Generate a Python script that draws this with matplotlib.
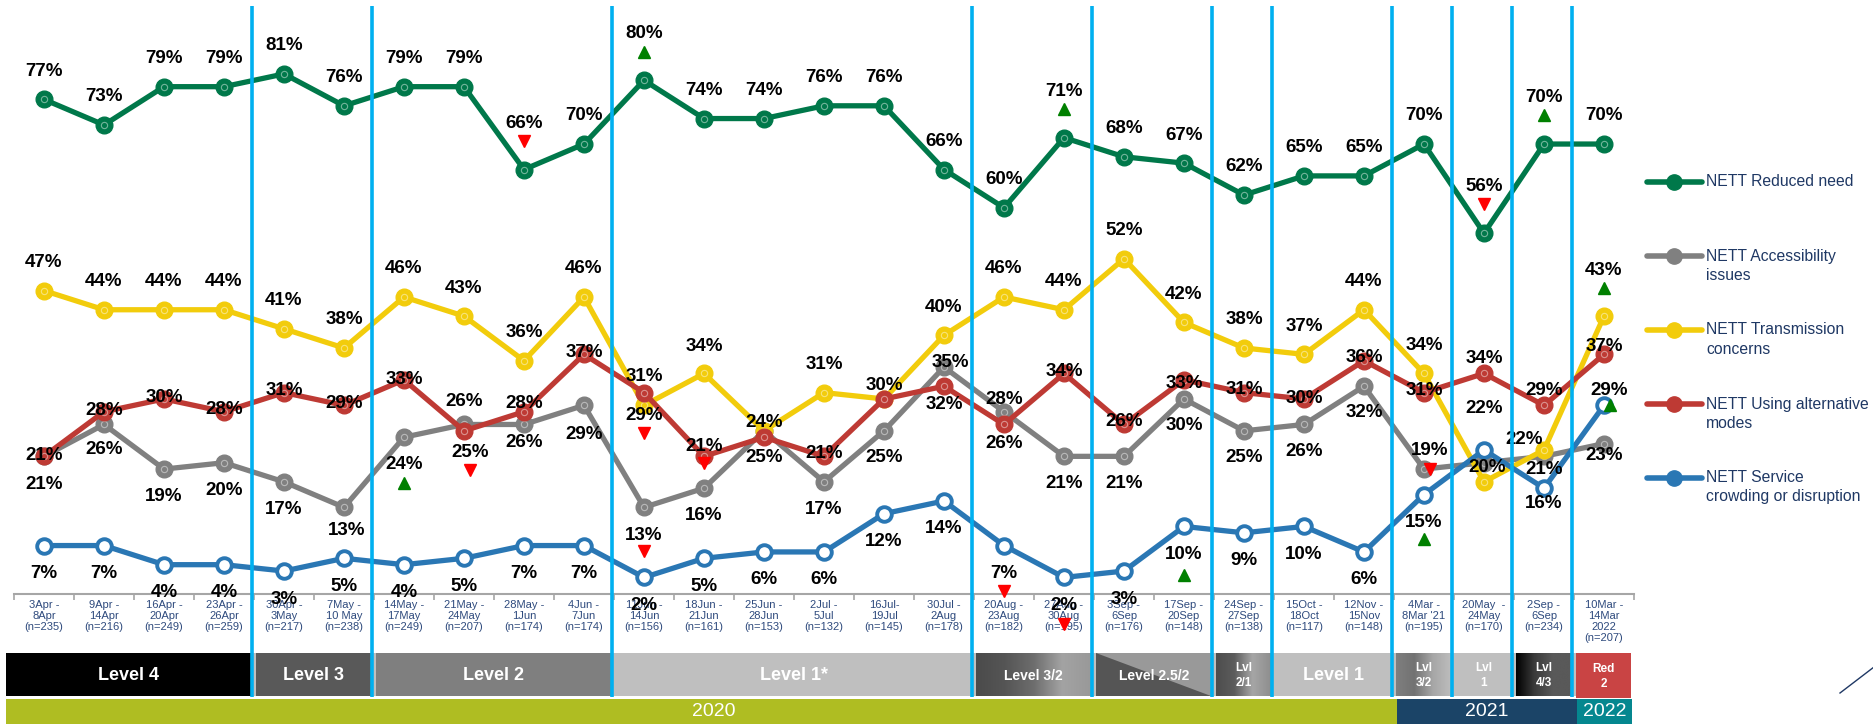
import numpy as np
import matplotlib.pyplot as plt
from matplotlib.colors import LinearSegmentedColormap, to_rgb
from matplotlib.patches import Rectangle, Polygon
from matplotlib.lines import Line2D

plt.rcParams['font.family'] = ['Liberation Sans', 'DejaVu Sans']

# survey waves (x axis)
periods = ["3Apr -\n8Apr\n(n=235)", "9Apr -\n14Apr\n(n=216)", "16Apr -\n20Apr\n(n=249)",
           "23Apr -\n26Apr\n(n=259)", "30Apr -\n3May\n(n=217)", "7May -\n10 May\n(n=238)",
           "14May -\n17May\n(n=249)", "21May -\n24May\n(n=207)", "28May -\n1Jun\n(n=174)",
           "4Jun -\n7Jun\n(n=174)", "11Jun -\n14Jun\n(n=156)", "18Jun -\n21Jun\n(n=161)",
           "25Jun -\n28Jun\n(n=153)", "2Jul -\n5Jul\n(n=132)", "16Jul-\n19Jul\n(n=145)",
           "30Jul -\n2Aug\n(n=178)", "20Aug -\n23Aug\n(n=182)", "27Aug -\n30Aug\n(n=195)",
           "3Sep -\n6Sep\n(n=176)", "17Sep -\n20Sep\n(n=148)", "24Sep -\n27Sep\n(n=138)",
           "15Oct -\n18Oct\n(n=117)", "12Nov -\n15Nov\n(n=148)", "4Mar -\n8Mar '21\n(n=195)",
           "20May  -\n24May\n(n=170)", "2Sep -\n6Sep\n(n=234)", "10Mar -\n14Mar\n2022\n(n=207)"]

reduced_need  = [77, 73, 79, 79, 81, 76, 79, 79, 66, 70, 80, 74, 74, 76, 76, 66, 60, 71, 68, 67, 62, 65, 65, 70, 56, 70, 70]
accessibility = [21, 26, 19, 20, 17, 13, 24, 26, 26, 29, 13, 16, 25, 17, 25, 35, 28, 21, 21, 30, 25, 26, 32, 19, 20, 21, 23]
transmission  = [47, 44, 44, 44, 41, 38, 46, 43, 36, 46, 29, 34, 25, 31, 30, 40, 46, 44, 52, 42, 38, 37, 44, 34, 17, 22, 43]
alternative   = [21, 28, 30, 28, 31, 29, 33, 25, 28, 37, 31, 21, 24, 21, 30, 32, 26, 34, 26, 33, 31, 30, 36, 31, 34, 29, 37]
service       = [7, 7, 4, 4, 3, 5, 4, 5, 7, 7, 2, 5, 6, 6, 12, 14, 7, 2, 3, 10, 9, 10, 6, 15, 22, 16, 29]

series_names = ["NETT Reduced need", "NETT Accessibility\nissues", "NETT Transmission\nconcerns",
                "NETT Using alternative\nmodes", "NETT Service\ncrowding or disruption"]
series_vals = [reduced_need, accessibility, transmission, alternative, service]
series_cols = ["#00784a", "#808080", "#f2cc0c", "#be3a34", "#2a77b4"]

# where each data label sits relative to its point (in % units, None = no label)
lab_green = [4.4] * 27
for k in (8, 10, 17, 24, 25):
    lab_green[k] = 7.3
lab_grey = [-4.4, -3.9, -4.3, -4.3, -4.3, -3.7, -4.3, 3.6, -2.9, -4.5, -4.4, -4.3, None, -4.3,
            -4.2, 0.8, 1.9, -4.2, -4.2, -4.2, -4.2, -4.2, -4.2, 2.9, -0.8, -2.0, -1.8]
lab_yellow = [4.4] * 10 + [-1.6, 4.2, -4.2, 4.4, 2.1] + [4.4] * 9 + [None, 1.6, 7.2]
lab_red = [0.2, 0.2, 0.3, 0.3, 0.3, 0.3, 0.1, -3.4, 1.3, 0.3, 2.6, 1.6, 2.3, 0.5, None,
           -2.9, -3.0, 0.3, 0.5, -0.5, 0.5, 0.1, 0.5, 0.3, 2.3, 2.3, 1.3]
lab_blue = [-4.4] * 24 + [6.5, -2.4, 2.4]
label_dy = [lab_green, lab_grey, lab_yellow, lab_red, lab_blue]
label_dx = [{}, {5: 0.05, 15: 0.1, 23: 0.1, 24: 0.05}, {24: 0.05, 25: -0.33}, {7: 0.1}, {26: 0.08}]

# significance arrows: (series, wave, up?, offset)
arrows = [(0, 8, False, 4.5), (0, 10, True, 4.5), (0, 17, True, 4.5), (0, 24, False, 4.6),
          (0, 25, True, 4.5), (1, 6, True, -7.2), (1, 10, False, -6.8), (1, 23, False, 0.0),
          (2, 10, False, -4.4), (2, 26, True, 4.4), (3, 7, False, -6.2), (3, 11, False, -1.0),
          (4, 16, False, -7.2), (4, 17, False, -7.3), (4, 19, True, -7.6), (4, 23, True, -7.0),
          (4, 26, True, 0.0)]
arrow_dx = {(1, 23): 0.1, (4, 26): 0.1, (3, 7): 0.1}

# alert levels and years underneath
levels = ["Level 4", "Level 3", "Level 2", "Level 1*", "Level 3/2", "Level 2.5/2", "Lvl\n2/1",
          "Level 1", "Lvl\n3/2", "Lvl\n1", "Lvl\n4/3", "Red\n2"]
level_first = [0, 4, 6, 10, 16, 18, 20, 21, 23, 24, 25, 26]
level_last = [3, 5, 9, 15, 17, 19, 20, 22, 23, 24, 25, 26]
level_fill = [["#000000"], ["#595959"], ["#7f7f7f"], ["#bfbfbf"],
              ["#4b4b4b", "#555555", "#6d6d6d", "#a3a3a3", "#999999"], "diag",
              ["#4d4d4d", "#5c5c5c", "#a6a6a6", "#8e8e8e"], ["#bfbfbf"],
              ["#7f7f7f", "#727272", "#a6a6a6", "#bdbdbd"], ["#bfbfbf"],
              ["#000000", "#3a3a3a", "#595959", "#595959"], ["#c94444"]]
level_fs = [13, 13, 13, 13, 10, 10, 8.5, 13, 8.5, 8.5, 8.5, 8.5]
years = ["2020", "2021", "2022"]
year_first = [0, 23, 26]
year_last = [22, 25, 26]
year_cols = ["#afbd22", "#1b4467", "#05878f"]

x = np.arange(len(periods))

fig = plt.figure(figsize=(18.74, 7.24), dpi=100)
ax = fig.add_axes([14 / 1874, 130 / 724, 1620 / 1874, 594 / 724])
ax.set_xlim(-0.5, 26.5)
ax.set_ylim(-0.6, 92.6)
ax.set_facecolor("none")
for s in ("top", "left", "right"):
    ax.spines[s].set_visible(False)
ax.spines["bottom"].set_color("#a6a6a6")
ax.spines["bottom"].set_linewidth(1.5)
ax.set_yticks([])
ax.set_xticks(x)
ax.set_xticklabels(periods, fontsize=8, color="#2e4a7d", linespacing=1.15)
ax.tick_params(axis="x", which="major", length=0, pad=4)
ax.set_xticks(np.arange(-0.5, 27, 1), minor=True)
ax.tick_params(axis="x", which="minor", length=4, color="#a6a6a6", width=1.2)

for si, (vals, col) in enumerate(zip(series_vals, series_cols)):
    z = 3 + si * 0.2
    if si == 4:
        ax.plot(x, vals, color=col, lw=3.8, marker="o", ms=10.5, mfc="white", mec=col, mew=2.8, zorder=z)
    else:
        light = tuple(0.55 * np.array(to_rgb(col)) + 0.45)
        ax.plot(x, vals, color=col, lw=3.8, marker="o", ms=12, mfc=col, mec=col, zorder=z)
        ax.plot(x, vals, ls="none", marker="o", ms=4.5, mfc="none", mec=light, mew=0.8, zorder=z + 0.05)
    for i, v in enumerate(vals):
        dy = label_dy[si][i]
        if dy is None:
            continue
        ax.text(i + label_dx[si].get(i, 0), v + dy, f"{v}%", ha="center", va="center",
                fontsize=13.5, fontweight="bold", color="black", zorder=6)

for si, i, up, dy in arrows:
    ax.plot(i + arrow_dx.get((si, i), 0), series_vals[si][i] + dy, ls="none",
            marker="^" if up else "v", ms=9, color="#008000" if up else "#ff0000",
            zorder=7, clip_on=False)

# overlay for level bands, year bands, separators and legend (x in wave units, y in pixels)
ov = fig.add_axes([0, 0, 1, 1])
ov.set_facecolor("none")
ov.axis("off")
x_lo, x_hi = -44 / 60, 1830 / 60

top, bot = 653, 696
ov.add_patch(Rectangle((-0.63, top), 26.45 + 0.63, bot - top, color="#bfbfbf", lw=0))
for name, a, b, fill, fs in zip(levels, level_first, level_last, level_fill, level_fs):
    x0 = -0.63 if a == 0 else a - 0.46
    x1 = b + 0.45
    t, bb = top, bot
    if name.startswith("Red"):
        bb = 698
    if fill == "diag":
        ov.add_patch(Rectangle((x0, t), x1 - x0, bb - t, color="#555555", lw=0))
        ov.add_patch(Polygon([(x0, t), (x1, t), (x1, bb)], closed=True, color="#999999", lw=0))
    elif len(fill) == 1:
        ov.add_patch(Rectangle((x0, t), x1 - x0, bb - t, color=fill[0], lw=0))
    else:
        cm = LinearSegmentedColormap.from_list("g", fill)
        ov.imshow(np.linspace(0, 1, 256)[None, :], cmap=cm, extent=(x0, x1, bb, t),
                  aspect="auto", interpolation="bilinear", zorder=1)
    ov.text((x0 + x1) / 2, (t + bb) / 2 + 1, name, ha="center", va="center", color="white",
            fontsize=fs, fontweight="bold", linespacing=1.25, zorder=3)

for name, a, b, col in zip(years, year_first, year_last, year_cols):
    x0 = -0.63 if a == 0 else a - 0.45
    x1 = b + 0.47 if b == 26 else b + 0.55
    ov.add_patch(Rectangle((x0, 699), x1 - x0, 25, color=col, lw=0))
    shift = 0.2 if a == 0 else 0
    ov.text((x0 + x1) / 2 + shift, 712, name, ha="center", va="center", color="white", fontsize=14)

for b in level_first[1:]:
    ov.plot([b - 0.53, b - 0.53], [6, 697], color="#00b0f0", lw=2.6, solid_capstyle="butt", zorder=4)

leg_y = [182, 256, 330, 404, 478]
for name, col, yy in zip(series_names, series_cols, leg_y):
    ov.plot([(1647 - 44) / 60, (1702 - 44) / 60], [yy, yy], color=col, lw=4, solid_capstyle="round")
    ov.plot([(1674 - 44) / 60], [yy], ls="none", marker="o", ms=11, color=col)
    for k, line in enumerate(name.split("\n")):
        ov.text((1706 - 44) / 60, yy + 19 * k, line, ha="left", va="center", fontsize=11.3,
                color="#1f3864")

ov.set_xlim(x_lo, x_hi)
ov.set_ylim(724, 0)

fig.add_artist(Line2D([1840 / 1874, 1.0], [(724 - 693) / 724, (724 - 667) / 724],
                      transform=fig.transFigure, color="#1f3864", lw=1))

fig.savefig("out.png", dpi=100)
